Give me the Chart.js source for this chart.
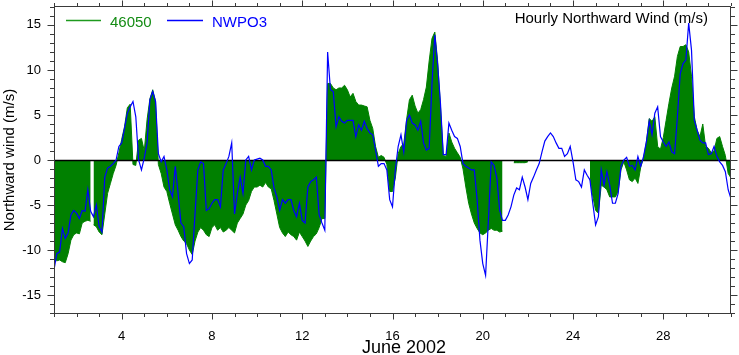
<!DOCTYPE html>
<html>
<head>
<meta charset="utf-8">
<script src="https://cdn.jsdelivr.net/npm/chart.js@4.4.1/dist/chart.umd.min.js"></script>
<style>
  html, body { margin: 0; padding: 0; background: #ffffff; }
  #wrap { width: 739px; height: 355px; }
</style>
</head>
<body>
<div id="wrap"><canvas id="c" width="739" height="355"></canvas></div>
<script>
// ---- data (3-hourly readings from June 1 00:00; x in day-of-month) ----
const startDay = 1;
const stepHours = 3;
const xTickLabels = [4, 8, 12, 16, 20, 24, 28];
const yTickLabels = [-15, -10, -5, 0, 5, 10, 15];
const seriesNames = ['46050', 'NWPO3'];

// buoy 46050 (null = missing)
const series46050 = [
  -11.0, -11.2, -11.1, -11.3, -11.4, -10.4, -8.9, -8.3,
  -8.1, -8.2, -7.0, -6.8, -6.7, -6.8, -7.2, -7.4,
  -8.0, -8.3, -6.0, -3.7, -2.6, -1.5, -0.6, 0.8,
  2.3, 3.7, 5.8, 6.2, -0.5, -0.6, 2.2, 2.4,
  1.0, 4.5, 6.8, 7.8, 6.5, -0.5, -1.5, -3.0,
  -3.5, -4.8, -6.0, -7.2, -7.8, -8.5, -9.0, -9.3,
  -10.0, -10.5, -9.0, -8.0, -7.5, -7.8, -8.3, -8.5,
  -7.5, -7.2, -7.8, -7.5, -8.0, -7.8, -7.5, -7.8,
  -8.1, -7.0, -6.5, -6.0, -5.0, -4.5, -3.5, -3.0,
  -3.0, -2.8, -3.0, -2.5, -3.0, -3.2, -4.5, -6.0,
  -7.5, -8.1, -8.5, -8.0, -8.3, -8.5, -8.9, -8.0,
  -8.5, -9.0, -9.6, -9.0, -8.5, -8.2, -7.5, -6.5,
  -6.5, 8.5, 8.5, 8.0, 7.8, 8.0, 8.0, 8.3,
  7.8, 7.0, 7.4, 6.5, 6.1, 6.1, 6.0, 5.9,
  4.4, 3.5, 1.5, 0.3, 0.5, 0.3, -0.5, -3.5,
  -3.5, -2.0, 0.7, 1.5, 1.8, 4.5, 6.7, 7.2,
  6.0, 5.2, 5.6, 6.7, 8.1, 11.0, 13.5, 14.2,
  11.0, 6.0, 0.5, 0.4, 3.0, 2.0, 1.3, 0.8,
  0.3, -1.0, -3.0, -4.8, -6.0, -7.0, -7.6, -8.1,
  -8.3, -8.1, -7.8, -7.6, -7.8, -7.8, -8.0, -7.9,
  null, null, null, -0.3, -0.3, -0.3, -0.3, -0.3,
  -0.2, null, null, null, null, null, null, null,
  null, null, null, null, null, null, null, null,
  null, null, null, null, null, null, -2.0, -4.0,
  -5.6, -5.9, -2.8, -3.0, -3.3, -4.1, -4.1, -4.1,
  -3.5, -1.1, -0.2, -1.1, -2.2, -2.4, -2.0, -2.6,
  -0.8, 0.2, 2.0, 4.6, 4.3, 4.8, 1.5, 1.2,
  2.5, 4.4, 6.3, 8.0, 9.3, 11.5, 12.6, 12.6,
  12.8, 12.0, 9.3, 4.8, 3.3, 2.6, 4.0, 1.5,
  1.3, 0.8, 1.0, 2.4, 2.6, 1.5, 0.5, -1.5,
  -2.0
];
// single missing hours of 46050 (day-of-month)
const gaps46050 = [2.69];

// station NWPO3
const seriesNWPO3 = [
  -12.2, -10.4, -10.2, -7.6, -8.7, -8.1, -6.1, -5.6,
  -5.9, -6.5, -5.6, -5.7, -3.3, -5.7, -6.3, -5.0,
  -7.4, -8.0, -1.9, -0.9, -0.7, -0.4, 0.0, 1.5,
  1.9, 3.5, 5.2, 5.9, 6.5, 4.8, 0.0, -1.1,
  0.2, 1.9, 6.7, 7.6, 6.5, 0.7, -0.2, 0.4,
  -1.1, -3.3, -4.1, -0.7, -3.7, -7.0, -7.4, -10.4,
  -11.5, -11.1, -5.9, -1.1, -0.2, -0.4, -5.6, -5.4,
  -4.8, -4.4, -4.4, -5.2, -1.1, -0.4, 0.4, 1.9,
  -6.0, -3.7, -1.9, -3.7, 0.0, 0.4, -1.1, 0.0,
  0.1, 0.2, 0.0, -0.7, -0.7, -1.1, -3.1, -4.1,
  -5.6, -4.4, -4.8, -4.4, -4.4, -5.6, -6.3, -4.8,
  -6.7, -7.0, -3.0, -2.4, -2.2, -1.9, -6.1, -7.0,
  -7.8, 12.0, 7.8, 7.6, 3.7, 4.8, 4.3, 4.1,
  4.4, 4.4, 4.4, 2.6, 3.9, 3.3, 4.3, 3.5,
  3.0, 2.8, 1.1, -0.7, -0.4, -0.4, -1.1, -4.4,
  -5.2, -1.1, 1.5, 2.8, 0.9, 4.4, 5.0, 4.1,
  3.9, 3.3, 4.3, 1.9, 1.1, 1.3, 8.5, 13.9,
  10.6, 6.3, 0.6, 0.6, 4.1, 3.3, 2.6, 2.4,
  1.5, -0.4, -0.7, -0.9, -1.1, -1.1, -4.4, -8.9,
  -11.5, -12.8, -6.7, -0.2, -0.6, -2.0, -5.6, -6.7,
  -6.7, -6.1, -5.2, -3.9, -3.1, -3.3, -1.9, -3.0,
  -4.4, -2.6, -1.9, -1.1, -0.4, 0.9, 2.1, 2.6,
  3.0, 2.6, 1.9, 1.3, 1.3, 0.4, 0.7, 1.5,
  -0.2, -2.2, -2.4, -3.0, -1.1, -1.7, -2.2, -4.8,
  -7.2, -6.3, -1.1, -2.8, -1.3, -2.8, -4.8, -4.8,
  -3.7, -0.7, 0.0, 0.3, -0.7, -0.6, -1.1, 0.4,
  -0.7, 0.4, 2.0, 4.3, 2.8, 5.2, 5.9, 2.6,
  2.0, 1.5, 2.0, 0.9, 0.7, 4.8, 9.6, 10.7,
  11.1, 15.2, 12.2, 4.4, 3.3, 2.2, 1.9, 1.9,
  0.6, 0.7, 1.5, 0.4, -0.2, -0.6, -1.3, -3.3,
  -4.3
];

// ---- build points through time index ----
function toPoints(vals, gaps) {
  const pts = vals.map((v, i) => ({ x: startDay + i * stepHours / 24, y: v }));
  (gaps || []).forEach(g => pts.push({ x: g, y: null }));
  pts.sort((a, b) => a.x - b.x);
  return pts;
}

const FONT = "'Liberation Sans', Arial, Helvetica, sans-serif";
const GREEN_FILL = '#008000';
const BLUE = '#0000ff';

const decor = {
  id: 'decor',
  afterDatasetDraw(chart, args) {
    if (args.index !== 0) return;
    const { ctx, chartArea: a, scales: { y } } = chart;
    const py = Math.round(y.getPixelForValue(0)) + 0.5;
    ctx.save();
    ctx.strokeStyle = '#000';
    ctx.lineWidth = 1.6;
    ctx.beginPath();
    ctx.moveTo(a.left, py); ctx.lineTo(a.right, py);
    ctx.stroke();
    ctx.restore();
  },
  afterDraw(chart) {
    const { ctx, chartArea: a, scales: { x, y } } = chart;
    ctx.save();
    ctx.strokeStyle = '#3a3a3a';
    ctx.lineWidth = 1;
    // frame
    ctx.strokeRect(Math.round(a.left) + 0.5, Math.round(a.top) + 0.5,
                   Math.round(a.right - a.left) - 1, Math.round(a.bottom - a.top) - 1);
    ctx.beginPath();
    for (let d = Math.ceil(x.min); d <= x.max; d++) {
      const px = Math.round(x.getPixelForValue(d)) + 0.5;
      const len = (d % 4 === 0) ? 5.5 : 3;
      ctx.moveTo(px, a.bottom); ctx.lineTo(px, a.bottom + len);
      ctx.moveTo(px, a.top); ctx.lineTo(px, a.top - len);
    }
    for (let v = Math.ceil(y.min); v <= y.max; v++) {
      const py = Math.round(y.getPixelForValue(v)) + 0.5;
      const len = (v % 5 === 0) ? 6.5 : 4;
      ctx.moveTo(a.left - len, py); ctx.lineTo(a.left, py);
      ctx.moveTo(a.right, py); ctx.lineTo(a.right + len, py);
    }
    ctx.stroke();

    // legend
    ctx.lineWidth = 1.3;
    ctx.strokeStyle = '#1e9a1e';
    ctx.beginPath(); ctx.moveTo(66, 20.5); ctx.lineTo(101, 20.5); ctx.stroke();
    ctx.strokeStyle = BLUE;
    ctx.beginPath(); ctx.moveTo(167, 20.5); ctx.lineTo(203, 20.5); ctx.stroke();
    ctx.font = '15px ' + FONT;
    ctx.textBaseline = 'alphabetic';
    ctx.textAlign = 'left';
    ctx.fillStyle = '#148c14';
    ctx.fillText(seriesNames[0], 110, 26.5);
    ctx.fillStyle = BLUE;
    ctx.fillText(seriesNames[1], 212, 26.5);

    // title
    ctx.fillStyle = '#000';
    ctx.textAlign = 'right';
    ctx.fillText('Hourly Northward Wind (m/s)', 708, 23);

    // x-axis title
    ctx.font = '18px ' + FONT;
    ctx.textAlign = 'center';
    ctx.fillText('June 2002', 404, 353);
    ctx.restore();
  }
};

new Chart(document.getElementById('c'), {
  type: 'line',
  data: {
    datasets: [
      {
        label: seriesNames[0],
        data: toPoints(series46050, gaps46050),
        borderColor: GREEN_FILL,
        backgroundColor: GREEN_FILL,
        borderWidth: 1,
        fill: 'origin',
        pointRadius: 0,
        tension: 0,
        spanGaps: false,
        order: 2
      },
      {
        label: seriesNames[1],
        data: toPoints(seriesNWPO3),
        borderColor: BLUE,
        borderWidth: 1.2,
        fill: false,
        pointRadius: 0,
        tension: 0,
        order: 1
      }
    ]
  },
  options: {
    responsive: false,
    animation: false,
    devicePixelRatio: 1,
    layout: { padding: { top: 6, right: 8, left: 0, bottom: 0 } },
    plugins: {
      legend: { display: false },
      tooltip: { enabled: false },
      title: { display: false }
    },
    scales: {
      x: {
        type: 'linear',
        min: 1,
        max: 31,
        afterBuildTicks: s => { s.ticks = xTickLabels.map(v => ({ value: v })); },
        afterFit: s => { s.height = 41; s.paddingLeft = 0; s.paddingRight = 0; },
        grid: { display: false, drawTicks: false },
        border: { display: false },
        ticks: {
          autoSkip: false, maxRotation: 0, padding: 15,
          color: '#000', font: { family: FONT, size: 13 },
          callback: v => String(v)
        },
        title: { display: false }
      },
      y: {
        type: 'linear',
        min: -17.1,
        max: 17.1,
        afterBuildTicks: s => { s.ticks = yTickLabels.map(v => ({ value: v })); },
        afterFit: s => { s.width = 54; s.paddingTop = 0; s.paddingBottom = 0; },
        grid: { display: false, drawTicks: false },
        border: { display: false },
        ticks: {
          padding: 13, color: '#000', font: { family: FONT, size: 13 },
          callback: v => String(v)
        },
        title: {
          display: true, text: 'Northward wind (m/s)', color: '#000',
          font: { family: FONT, size: 15, lineHeight: 1.2 },
          padding: { top: 1, bottom: 0 }
        }
      }
    }
  },
  plugins: [decor]
});
</script>
</body>
</html>
